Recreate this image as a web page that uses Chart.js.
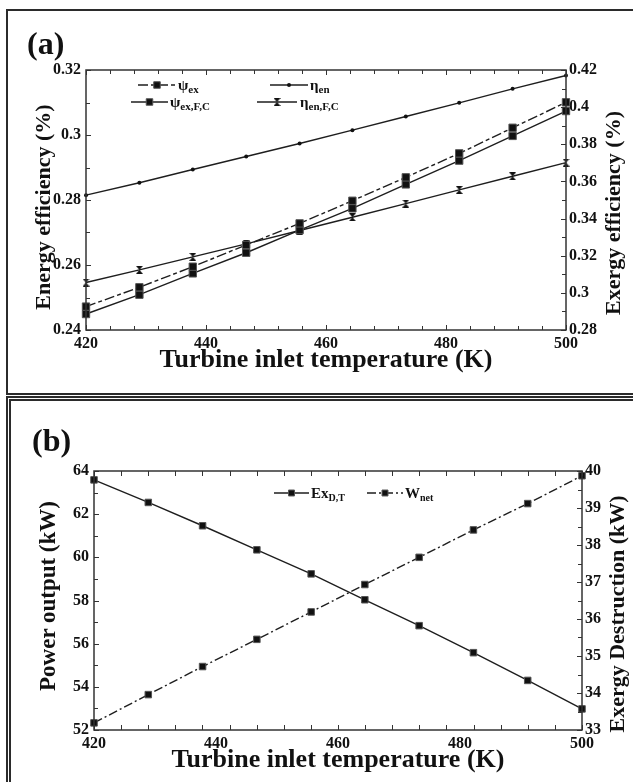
<!DOCTYPE html>
<html><head><meta charset="utf-8">
<script src="https://cdn.jsdelivr.net/npm/chart.js@4.4.1/dist/chart.umd.min.js"></script>
<style>
html,body{margin:0;padding:0;background:#fff;width:633px;height:782px;overflow:hidden;position:relative;font-family:'Liberation Serif','Times New Roman',serif;}
canvas{position:absolute;left:0;}
#ca{top:0}
#cb{top:397px}
.frame{position:absolute;box-sizing:border-box;pointer-events:none;z-index:2;}
#fa{left:6px;top:9px;width:640px;height:386px;border:2px solid #2b2b2b;}
#fb{left:6px;top:396px;width:640px;height:400px;border:5px double #2b2b2b;}
.plabel{position:absolute;font-weight:bold;font-size:32px;line-height:1;color:#111;}
.vtitle{position:absolute;font-weight:bold;font-size:22px;line-height:1;white-space:nowrap;color:#111;transform:translate(-50%,-50%) rotate(-90deg);}
</style></head>
<body>
<div class="frame" id="fa"></div>
<div class="frame" id="fb"></div>
<canvas id="ca" width="633" height="395"></canvas>
<canvas id="cb" width="633" height="385"></canvas>
<div class="plabel" style="left:27px;top:27px">(a)</div>
<div class="plabel" style="left:32px;top:424px">(b)</div>
<div class="vtitle" style="left:43px;top:207px">Energy efficiency (%)</div>
<div class="vtitle" style="left:613px;top:213px">Exergy efficiency (%)</div>
<div class="vtitle" style="left:47px;top:596px;font-size:23px">Power output (kW)</div>
<div class="vtitle" style="left:617px;top:614px">Exergy Destruction (kW)</div>
<script>
// ---------- data ----------
const temps   = [420, 428.9, 437.8, 446.7, 455.6, 464.4, 473.3, 482.2, 491.1, 500];
const psiEx   = [0.2926, 0.3030, 0.3141, 0.3258, 0.3374, 0.3496, 0.3622, 0.3751, 0.3889, 0.4026];
const psiExFC = [0.2886, 0.2990, 0.3105, 0.3216, 0.3338, 0.3455, 0.3584, 0.3712, 0.3845, 0.3979];
const etaEn   = [0.2815, 0.2853, 0.2894, 0.2934, 0.2974, 0.3015, 0.3057, 0.3099, 0.3142, 0.3183];
const etaEnFC = [0.2546, 0.2585, 0.2625, 0.2665, 0.2706, 0.2747, 0.2789, 0.2831, 0.2873, 0.2915];
const wNet    = [52.33, 53.64, 54.94, 56.20, 57.47, 58.74, 60.00, 61.27, 62.49, 63.78];
const exDT    = [39.76, 39.15, 38.52, 37.87, 37.22, 36.52, 35.82, 35.09, 34.34, 33.57];

const xTicks = [420, 440, 460, 480, 500];
const xTickLabels = ['420', '440', '460', '480', '500'];
const energyTicks = [0.24, 0.26, 0.28, 0.30, 0.32];
const energyTickLabels = ['0.24', '0.26', '0.28', '0.3', '0.32'];
const exergyTicks = [0.28, 0.30, 0.32, 0.34, 0.36, 0.38, 0.40, 0.42];
const exergyTickLabels = ['0.28', '0.3', '0.32', '0.34', '0.36', '0.38', '0.4', '0.42'];
const powerTicks = [52, 54, 56, 58, 60, 62, 64];
const powerTickLabels = ['52', '54', '56', '58', '60', '62', '64'];
const destrTicks = [33, 34, 35, 36, 37, 38, 39, 40];
const destrTickLabels = ['33', '34', '35', '36', '37', '38', '39', '40'];

// ---------- styling helpers ----------
const FAM = "'Liberation Serif','Times New Roman',serif";
const INK = '#111';
const LINE = '#1e1e1e';
function pts(vals) { return vals.map((v, i) => ({ x: temps[i], y: v })); }

function hourglass() {
  const c = document.createElement('canvas');
  c.width = 7; c.height = 8;
  const g = c.getContext('2d');
  g.fillStyle = '#111';
  g.beginPath(); g.moveTo(0, 0); g.lineTo(7, 0); g.lineTo(3.5, 4); g.closePath(); g.fill();
  g.beginPath(); g.moveTo(0, 8); g.lineTo(7, 8); g.lineTo(3.5, 4); g.closePath(); g.fill();
  return c;
}

const frameTicks = {
  id: 'frameTicks',
  afterDraw(chart, args, o) {
    const { ctx, chartArea: a, scales } = chart;
    ctx.save();
    ctx.strokeStyle = o.color;
    ctx.lineWidth = o.width;
    ctx.strokeRect(a.left, a.top, a.right - a.left, a.bottom - a.top);
    ctx.lineWidth = 1;
    const each = (scale, spec, fn) => {
      const n = Math.round((scale.max - scale.min) / spec.step);
      for (let i = 0; i <= n; i++) {
        const p = scale.getPixelForValue(scale.min + i * spec.step);
        const len = (i % spec.majorEvery === 0) ? o.major : o.minor;
        fn(Math.round(p) + 0.5, len);
      }
    };
    ctx.beginPath();
    each(scales.x, o.x, (p, l) => {
      ctx.moveTo(p, a.bottom); ctx.lineTo(p, a.bottom - l);
      ctx.moveTo(p, a.top); ctx.lineTo(p, a.top + l);
    });
    each(scales.yL, o.left, (p, l) => { ctx.moveTo(a.left, p); ctx.lineTo(a.left + l, p); });
    each(scales.yR, o.right, (p, l) => { ctx.moveTo(a.right, p); ctx.lineTo(a.right - l, p); });
    ctx.stroke();
    ctx.restore();
  }
};

const seriesLegend = {
  id: 'seriesLegend',
  afterDraw(chart, args, o) {
    const ctx = chart.ctx;
    o.items.forEach(it => {
      const ds = chart.data.datasets[it.ds];
      ctx.save();
      ctx.strokeStyle = ds.borderColor;
      ctx.lineWidth = ds.borderWidth;
      ctx.setLineDash(ds.borderDash || []);
      ctx.beginPath(); ctx.moveTo(it.x0, it.y); ctx.lineTo(it.x1, it.y); ctx.stroke();
      ctx.setLineDash([]);
      ctx.fillStyle = ds.pointBackgroundColor;
      ctx.strokeStyle = ds.pointBorderColor;
      ctx.lineWidth = ds.pointBorderWidth;
      Chart.helpers.drawPoint(ctx, { pointStyle: ds.pointStyle, radius: it.r || ds.pointRadius, borderWidth: ds.pointBorderWidth, rotation: 0 }, (it.x0 + it.x1) / 2, it.y);
      ctx.fillStyle = INK;
      ctx.textBaseline = 'alphabetic';
      ctx.textAlign = 'left';
      ctx.font = 'bold ' + o.mainSize + 'px ' + FAM;
      ctx.fillText(it.main, it.tx, it.y + 5);
      const w = ctx.measureText(it.main).width;
      ctx.font = 'bold ' + o.subSize + 'px ' + FAM;
      ctx.fillText(it.sub, it.tx + w, it.y + 8);
      ctx.restore();
    });
  }
};

function sq(extra) {
  return Object.assign({ borderColor: LINE, borderWidth: 1.4, pointStyle: 'rect', pointRadius: 5.2,
    pointBackgroundColor: '#111', pointBorderColor: '#555', pointBorderWidth: 1,
    fill: false, tension: 0, clip: false }, extra);
}
function tickFont(size) { return { family: FAM, size: size, weight: 'bold' }; }

function xScale(h, pad, tpad) {
  return {
    type: 'linear', position: 'bottom', min: 420, max: 500,
    afterBuildTicks: s => { s.ticks = xTicks.map(v => ({ value: v })); },
    afterFit: s => { s.height = h; },
    grid: { display: false, drawTicks: false }, border: { display: false },
    ticks: { callback: (v, i) => xTickLabels[i], font: tickFont(16), color: INK, padding: pad, maxRotation: 0, autoSkip: false },
    title: { display: true, text: 'Turbine inlet temperature (K)', font: { family: FAM, size: 26, weight: 'bold' }, color: INK, padding: { top: 0, bottom: tpad } }
  };
}
function yScale(pos, min, max, tv, tl, w, pad) {
  return {
    type: 'linear', position: pos, min: min, max: max,
    afterBuildTicks: s => { s.ticks = tv.map(v => ({ value: v })); },
    afterFit: s => { s.width = w; },
    grid: { display: false, drawTicks: false }, border: { display: false },
    ticks: { callback: (v, i) => tl[i], font: tickFont(16), color: INK, padding: pad, autoSkip: false },
    title: { display: false }
  };
}

// ---------- chart (a) ----------
new Chart(document.getElementById('ca'), {
  type: 'line',
  data: { datasets: [
    sq({ label: 'ψex', data: pts(psiEx), yAxisID: 'yR', borderDash: [10, 3, 4, 3] }),
    sq({ label: 'ηen', data: pts(etaEn), yAxisID: 'yL', pointStyle: 'circle', pointRadius: 2, pointBorderColor: '#111', pointBorderWidth: 0 }),
    sq({ label: 'ψex,F,C', data: pts(psiExFC), yAxisID: 'yR' }),
    sq({ label: 'ηen,F,C', data: pts(etaEnFC), yAxisID: 'yL', pointStyle: hourglass(), pointRadius: 4 })
  ] },
  options: {
    responsive: false, animation: false, devicePixelRatio: 1,
    layout: { padding: { top: 70, left: 0, right: 0, bottom: 0 } },
    scales: {
      x: xScale(65, 4, 19),
      yL: yScale('left', 0.24, 0.32, energyTicks, energyTickLabels, 86, 5),
      yR: yScale('right', 0.28, 0.42, exergyTicks, exergyTickLabels, 67, 3)
    },
    plugins: {
      legend: { display: false }, tooltip: { enabled: false },
      frameTicks: { color: '#333', width: 1.5, major: 5, minor: 4,
        x: { step: 4, majorEvery: 5 }, left: { step: 0.01, majorEvery: 2 }, right: { step: 0.01, majorEvery: 2 } },
      seriesLegend: { mainSize: 15, subSize: 11, items: [
        { ds: 0, x0: 138, x1: 176, y: 85, main: 'ψ', sub: 'ex', tx: 178, r: 4.6 },
        { ds: 1, x0: 270, x1: 308, y: 85, main: 'η', sub: 'en', tx: 310 },
        { ds: 2, x0: 131, x1: 168, y: 102, main: 'ψ', sub: 'ex,F,C', tx: 170, r: 4.6 },
        { ds: 3, x0: 257, x1: 297, y: 102, main: 'η', sub: 'en,F,C', tx: 300 }
      ] }
    }
  },
  plugins: [frameTicks, seriesLegend]
});

// ---------- chart (b) ----------
new Chart(document.getElementById('cb'), {
  type: 'line',
  data: { datasets: [
    sq({ label: 'ExD,T', data: pts(exDT), yAxisID: 'yR', pointRadius: 4.6 }),
    sq({ label: 'Wnet', data: pts(wNet), yAxisID: 'yL', pointRadius: 4.6, borderDash: [9, 3, 2, 3] })
  ] },
  options: {
    responsive: false, animation: false, devicePixelRatio: 1,
    layout: { padding: { top: 74, left: 0, right: 0, bottom: 0 } },
    scales: {
      x: xScale(52, 4, 6),
      yL: yScale('left', 52, 64, powerTicks, powerTickLabels, 94, 5),
      yR: yScale('right', 33, 40, destrTicks, destrTickLabels, 51, 3)
    },
    plugins: {
      legend: { display: false }, tooltip: { enabled: false },
      frameTicks: { color: '#333', width: 1.5, major: 5, minor: 4,
        x: { step: 80 / 18, majorEvery: 1 }, left: { step: 1, majorEvery: 2 }, right: { step: 0.5, majorEvery: 2 } },
      seriesLegend: { mainSize: 15, subSize: 10, items: [
        { ds: 0, x0: 274, x1: 309, y: 96, main: 'Ex', sub: 'D,T', tx: 311, r: 4.2 },
        { ds: 1, x0: 367, x1: 403, y: 96, main: 'W', sub: 'net', tx: 405, r: 4.2 }
      ] }
    }
  },
  plugins: [frameTicks, seriesLegend]
});
</script>
</body></html>
